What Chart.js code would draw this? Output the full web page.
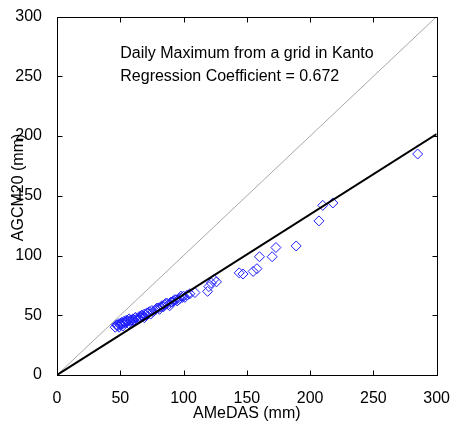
<!DOCTYPE html>
<html>
<head>
<meta charset="utf-8">
<script src="https://cdn.jsdelivr.net/npm/chart.js@4.4.0/dist/chart.umd.min.js"></script>
<style>html,body{margin:0;padding:0;background:#fff}</style>
</head>
<body>
<canvas id="myChart" width="456" height="428"></canvas>
<script>
// observed daily maxima (mm)
var amedas = [46,47,48,49,50,51,52,53,54,55,56,57,58,59,60,61,62,64,65,66,67,68,69,70,72,73,75,76,78,80,82,83,85,87,88,90,92,94,95,97,99,100,103,105,109,119,120,122,124,126,144,147,155,158,160,170,173,189,207,210,218,285,
  47.5,49,50.5,52,53.5,55,56.5,58,60,62,63,65,67,69,71,74,77,79,81,84,86,89,91,93,96,98,101];
var agcm = [40,42,41,43,42,44,43,45,44,46,45,47,45,46,47,46,48,47,49,48,50,49,51,50,52,53,54,53,55,56,57,58,59,60,59,61,62,63,62,64,65,66,67,68,69,70,74,77,80,78,85.5,84.5,86.7,89,99,99,106.7,108,129,142,144,185,
  42,40,43,41,44,45,43,46,45,48,46,47,50,48,52,51,54,56,55,57,60,58,61,63,63,66,65];
var xTicks = [0,50,100,150,200,250,300];
var yTicks = [0,50,100,150,200,250,300];
var coef = 0.672;
var note1 = 'Daily Maximum from a grid in Kanto';
var note2 = 'Regression Coefficient = 0.672';
var xLabel = 'AMeDAS (mm)';
var yLabel = 'AGCM20 (mm)';

var FONT = '16px "Liberation Sans", Arial, sans-serif';

var pts = [];
for (var i = 0; i < amedas.length; i++) {
  pts.push({x: amedas[i], y: agcm[i]});
}
var xMax = xTicks[xTicks.length - 1];

var frame = {
  id: 'frame',
  afterDraw: function(chart) {
    var ctx = chart.ctx, a = chart.chartArea;
    var xs = chart.scales.x, ys = chart.scales.y;
    var L = Math.round(a.left) + 0.5, R = Math.round(a.right) + 0.5;
    var T = Math.round(a.top) + 0.5, B = Math.round(a.bottom) + 0.5;
    ctx.save();
    ctx.strokeStyle = '#000';
    ctx.lineWidth = 1;
    ctx.strokeRect(L, T, R - L, B - T);
    ctx.beginPath();
    xTicks.forEach(function(v) {
      var px = Math.round(xs.getPixelForValue(v)) + 0.5;
      ctx.moveTo(px, B); ctx.lineTo(px, B - 5);
      ctx.moveTo(px, T); ctx.lineTo(px, T + 5);
    });
    yTicks.forEach(function(v) {
      var py = Math.round(ys.getPixelForValue(v)) + 0.5;
      ctx.moveTo(L, py); ctx.lineTo(L + 5, py);
      ctx.moveTo(R, py); ctx.lineTo(R - 5, py);
    });
    ctx.stroke();

    ctx.fillStyle = '#000';
    ctx.font = FONT;
    ctx.textBaseline = 'middle';
    ctx.textAlign = 'left';
    ctx.fillText(note1, xs.getPixelForValue(50), ys.getPixelForValue(269));
    ctx.fillText(note2, xs.getPixelForValue(50), ys.getPixelForValue(250));

    ctx.textAlign = 'center';
    ctx.fillText(xLabel, (a.left + a.right) / 2, 414);
    ctx.translate(19, ys.getPixelForValue(157));
    ctx.rotate(-Math.PI / 2);
    ctx.fillText(yLabel, 0, 0);
    ctx.restore();
  }
};

var ctx = document.getElementById('myChart').getContext('2d');
var chart = new Chart(ctx, {
  type: 'scatter',
  data: {
    datasets: [{
      data: [{x: 0, y: 0}, {x: xMax, y: coef * xMax}],
      showLine: true,
      borderColor: '#000',
      borderWidth: 2,
      pointRadius: 0
    }, {
      data: [{x: 0, y: 0}, {x: xMax, y: xMax}],
      showLine: true,
      borderColor: '#a8a8a8',
      borderWidth: 1,
      pointRadius: 0
    }, {
      data: pts,
      pointStyle: 'rectRot',
      pointRadius: 5,
      borderColor: 'rgb(30,30,255)',
      backgroundColor: 'transparent',
      borderWidth: 1
    }]
  },
  options: {
    responsive: false,
    animation: false,
    devicePixelRatio: 1,
    layout: {padding: {top: 16, right: 16, left: 0, bottom: 0}},
    plugins: {legend: {display: false}, tooltip: {enabled: false}},
    scales: {
      x: {
        type: 'linear',
        min: 0, max: 300,
        afterBuildTicks: function(s) { s.ticks = xTicks.map(function(v) { return {value: v}; }); },
        afterFit: function(s) { s.height = 53; },
        grid: {display: false},
        border: {display: false},
        ticks: {color: '#000', font: {family: '"Liberation Sans", Arial, sans-serif', size: 16}, padding: 6, maxRotation: 0}
      },
      y: {
        type: 'linear',
        min: 0, max: 300,
        afterBuildTicks: function(s) { s.ticks = yTicks.map(function(v) { return {value: v}; }); },
        afterFit: function(s) { s.width = 57; },
        grid: {display: false},
        border: {display: false},
        ticks: {color: '#000', font: {family: '"Liberation Sans", Arial, sans-serif', size: 16}, padding: 7}
      }
    }
  },
  plugins: [frame]
});
</script>
</body>
</html>
